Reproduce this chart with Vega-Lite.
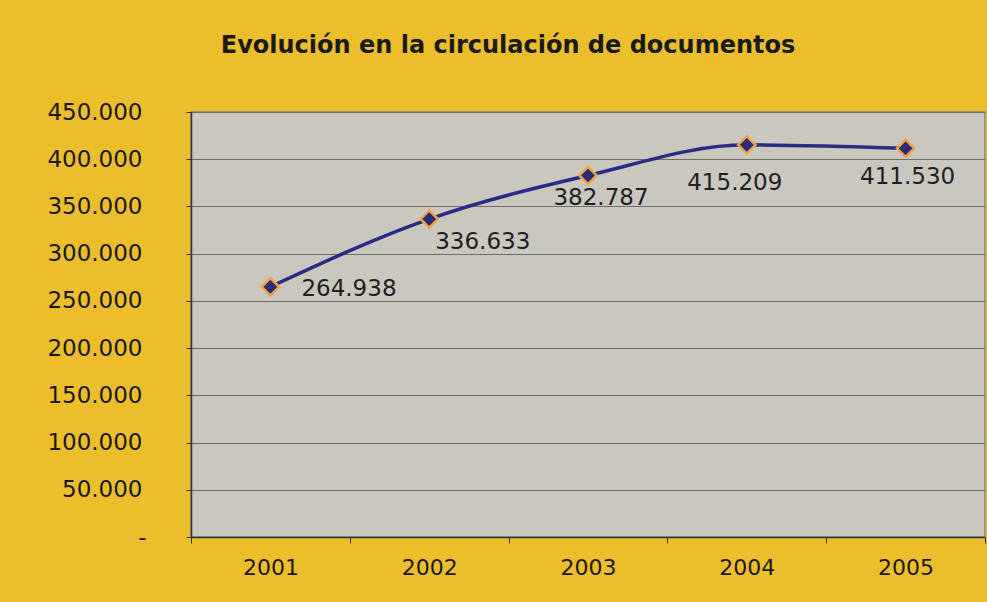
{
  "$schema": "https://vega.github.io/schema/vega-lite/v6.json",
  "width": 794,
  "height": 425,
  "autosize": {"type": "none"},
  "padding": {"left": 191, "top": 112, "right": 2, "bottom": 65},
  "background": "#ECBE2C",
  "title": {
    "text": "Evolución en la circulación de documentos",
    "font": "DejaVu Sans",
    "fontSize": 24,
    "fontWeight": "bold",
    "color": "#1a1a1a",
    "anchor": "middle",
    "dx": -80,
    "offset": 43
  },
  "config": {
    "locale": {"number": {"decimal": ",", "thousands": ".", "grouping": [3], "currency": ["", " €"]}},
    "view": {"fill": "#C9C7BE", "stroke": "#8a8a86", "strokeWidth": 1.5}
  },
  "data": {
    "values": [
      {"year": "2001", "value": 264938},
      {"year": "2002", "value": 336633},
      {"year": "2003", "value": 382787},
      {"year": "2004", "value": 415209},
      {"year": "2005", "value": 411530}
    ]
  },
  "encoding": {
    "x": {
      "field": "year",
      "type": "ordinal",
      "bandPosition": 0.5,
      "scale": {"type": "band", "paddingInner": 0, "paddingOuter": 0},
      "axis": {
        "title": null,
        "labelAngle": 0,
        "labelFont": "DejaVu Sans",
        "labelFontSize": 22,
        "labelColor": "#1a1a1a",
        "labelPadding": 14,
        "tickBand": "extent",
        "tickSize": 6,
        "tickColor": "#333",
        "domainColor": "#333",
        "domainWidth": 1.5,
        "grid": false
      }
    },
    "y": {
      "field": "value",
      "type": "quantitative",
      "scale": {"domain": [0, 450000], "nice": false},
      "axis": {
        "title": null,
        "values": [0, 50000, 100000, 150000, 200000, 250000, 300000, 350000, 400000, 450000],
        "format": ",d",
        "labelExpr": "datum.value == 0 ? '-' : datum.label",
        "labelFont": "DejaVu Sans",
        "labelFontSize": 23,
        "labelColor": "#1a1a1a",
        "labelPadding": 44,
        "tickSize": 5,
        "tickColor": "#333",
        "domainColor": "#333",
        "domainWidth": 1.5,
        "grid": true,
        "gridColor": "#6e6e6a",
        "gridWidth": 1,
        "labelAlign": {"condition": {"test": "datum.value == 0", "value": "center"}, "value": "right"},
        "encode": {"labels": {"update": {"x": {"signal": "datum.value == 0 ? -82 : -49"}}}}
      }
    }
  },
  "layer": [
    {
      "mark": {"type": "line", "color": "#2B2B86", "strokeWidth": 3.5, "interpolate": "monotone"}
    },
    {
      "mark": {"type": "point", "shape": "diamond", "size": 300, "filled": true, "fill": "#2A2C78", "stroke": "#F0A446", "strokeWidth": 2.5, "opacity": 1}
    },
    {
      "transform": [{"filter": "datum.year == '2001'"}],
      "mark": {"type": "text", "font": "DejaVu Sans", "fontSize": 23, "color": "#1f1f1f", "align": "left", "baseline": "middle", "dx": 31, "dy": 2},
      "encoding": {"text": {"field": "value", "type": "quantitative", "format": ",d"}}
    },
    {
      "transform": [{"filter": "datum.year == '2002'"}],
      "mark": {"type": "text", "font": "DejaVu Sans", "fontSize": 23, "color": "#1f1f1f", "align": "left", "baseline": "middle", "dx": 6, "dy": 23},
      "encoding": {"text": {"field": "value", "type": "quantitative", "format": ",d"}}
    },
    {
      "transform": [{"filter": "datum.year == '2003'"}],
      "mark": {"type": "text", "font": "DejaVu Sans", "fontSize": 23, "color": "#1f1f1f", "align": "center", "baseline": "middle", "dx": 13, "dy": 23},
      "encoding": {"text": {"field": "value", "type": "quantitative", "format": ",d"}}
    },
    {
      "transform": [{"filter": "datum.year == '2004'"}],
      "mark": {"type": "text", "font": "DejaVu Sans", "fontSize": 23, "color": "#1f1f1f", "align": "center", "baseline": "middle", "dx": -12, "dy": 38},
      "encoding": {"text": {"field": "value", "type": "quantitative", "format": ",d"}}
    },
    {
      "transform": [{"filter": "datum.year == '2005'"}],
      "mark": {"type": "text", "font": "DejaVu Sans", "fontSize": 23, "color": "#1f1f1f", "align": "center", "baseline": "middle", "dx": 2, "dy": 29},
      "encoding": {"text": {"field": "value", "type": "quantitative", "format": ",d"}}
    }
  ]
}
